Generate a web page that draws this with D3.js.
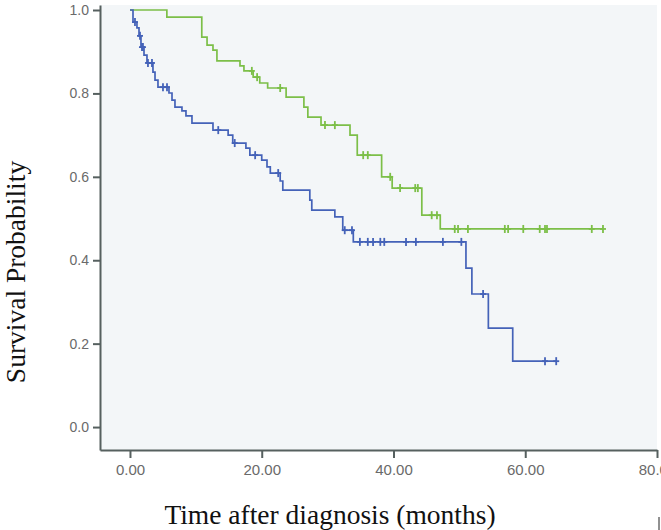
<!DOCTYPE html>
<html>
<head>
<meta charset="utf-8">
<script src="https://cdn.jsdelivr.net/npm/d3@7"></script>
<style>
  body { margin: 0; background: #fff; }
  svg { display: block; }
</style>
</head>
<body>
<div id="chart"></div>
<script>
// tick values
const xTicks = [0, 20, 40, 60, 80];
const yTicks = [0, 0.2, 0.4, 0.6, 0.8, 1.0];

// group 1 (green) - KM steps
const greenTimes = [5.6, 10.9, 11.7, 12.6, 13.2, 16.7, 17.3, 18.7, 19.7, 20.9, 23.7, 26.4, 27.0, 29.0, 33.4, 34.5, 38.2, 39.8, 44.3, 47.1];
const greenSurv  = [0.983, 0.935, 0.916, 0.904, 0.878, 0.866, 0.854, 0.839, 0.825, 0.813, 0.791, 0.767, 0.743, 0.724, 0.700, 0.652, 0.600, 0.573, 0.508, 0.475];
const greenCensored = [18.5, 19.3, 22.8, 29.6, 31.1, 35.4, 36.1, 39.5, 41.0, 43.3, 43.7, 45.8, 46.6, 49.3, 49.8, 51.3, 56.9, 57.4, 59.7, 62.2, 63.0, 63.3, 70.1, 71.8];

// group 2 (blue)
const blueTimes = [0.46, 1.06, 1.37, 1.67, 2.13, 2.58, 3.49, 3.80, 4.25, 5.92, 6.38, 6.83, 7.89, 8.50, 9.41, 12.6, 14.9, 15.6, 17.6, 18.2, 20.0, 20.8, 21.3, 22.8, 23.2, 27.3, 27.6, 31.1, 32.3, 33.9, 51.0, 51.9, 54.4, 58.1];
const blueSurv  = [0.971, 0.957, 0.938, 0.911, 0.892, 0.873, 0.851, 0.832, 0.815, 0.801, 0.784, 0.767, 0.758, 0.746, 0.729, 0.712, 0.700, 0.681, 0.669, 0.652, 0.640, 0.624, 0.609, 0.590, 0.568, 0.544, 0.520, 0.504, 0.472, 0.444, 0.381, 0.319, 0.237, 0.158];
const blueCensored = [0.76, 1.52, 1.82, 1.97, 2.73, 3.34, 5.01, 5.62, 13.4, 15.9, 19.0, 22.5, 32.6, 33.7, 34.9, 36.1, 36.9, 38.0, 38.6, 41.9, 43.4, 47.5, 50.3, 53.6, 63.0, 64.7];

const width = 661, height = 530;

const svg = d3.select("#chart")
    .append("svg")
    .attr("width", width)
    .attr("height", height);

var x = d3.scaleLinear()
    .domain([-4.55, 80])
    .range([100, 657]);

var y = d3.scaleLinear()
    .domain([-0.055, 1.012])
    .range([450, 5]);

// plot background
svg.append("rect")
    .attr("x", x.range()[0])
    .attr("y", y.range()[1])
    .attr("width", x.range()[1] - x.range()[0])
    .attr("height", y.range()[0] - y.range()[1])
    .attr("fill", "#f3f6f8");

function level(times, surv, t) {
    let p = 1;
    for (let i = 0; i < times.length; i++) {
        if (times[i] <= t) p = surv[i];
    }
    return p;
}

function drawCurve(times, surv, censored, color) {
    let pts = [[0, 1]];
    for (let i = 0; i < times.length; i++) pts.push([times[i], surv[i]]);
    let tEnd = d3.max(censored.concat(times));
    pts.push([tEnd, level(times, surv, tEnd)]);

    var line = d3.line()
        .x(function(d) { return x(d[0]) })
        .y(function(d) { return y(d[1]) })
        .curve(d3.curveStepAfter);

    svg.append("path")
        .datum(pts)
        .attr("d", line)
        .attr("fill", "none")
        .attr("stroke", color)
        .attr("stroke-width", 1.7);

    // censor marks (+)
    var marks = svg.append("g")
        .selectAll("g")
        .data(censored)
        .enter()
        .append("g")
        .attr("transform", function(d) { return `translate(${x(d)}, ${y(level(times, surv, d))})` });

    marks.append("line")
        .attr("x1", 0).attr("x2", 0)
        .attr("y1", -4).attr("y2", 4)
        .attr("stroke", color)
        .attr("stroke-width", 1.8);

    marks.append("line")
        .attr("x1", -3).attr("x2", 3)
        .attr("y1", 0).attr("y2", 0)
        .attr("stroke", color)
        .attr("stroke-width", 1.8);
}

drawCurve(greenTimes, greenSurv, greenCensored, "#7cbf48");
drawCurve(blueTimes, blueSurv, blueCensored, "#4462b8");

// axes
var xAxis = svg.append("g")
    .attr("transform", `translate(0, 450)`)
    .call(d3.axisBottom(x).tickValues(xTicks).tickFormat(d3.format(".2f")).tickSize(8).tickSizeOuter(0).tickPadding(6));

xAxis.selectAll("text")
    .style("font-family", "Liberation Sans, Arial, sans-serif")
    .style("font-size", "15px")
    .attr("fill", "#6a6a6a");

var yAxis = svg.append("g")
    .attr("transform", `translate(100, 0)`)
    .call(d3.axisLeft(y).tickValues(yTicks).tickFormat(d3.format(".1f")).tickSize(7).tickSizeOuter(0).tickPadding(4));

yAxis.selectAll("text")
    .style("font-family", "Liberation Sans, Arial, sans-serif")
    .style("font-size", "14px")
    .attr("fill", "#6a6a6a");

svg.selectAll(".domain, .tick line")
    .attr("stroke", "#56605f")
    .attr("stroke-width", 2);

// axis titles
svg.append("text")
    .attr("x", 330)
    .attr("y", 524)
    .style("text-anchor", "middle")
    .style("font-family", "Liberation Serif, Times New Roman, serif")
    .style("font-size", "27.5px")
    .attr("fill", "#111")
    .text("Time after diagnosis (months)");

svg.append("text")
    .attr("transform", `translate(25, 272)rotate(-90)`)
    .style("text-anchor", "middle")
    .style("font-family", "Liberation Serif, Times New Roman, serif")
    .style("font-size", "27.5px")
    .attr("fill", "#111")
    .text("Survival Probability");

// small edge mark at bottom right of the original crop
svg.append("line")
    .attr("x1", 659).attr("x2", 659)
    .attr("y1", 517).attr("y2", 530)
    .attr("stroke", "#222")
    .attr("stroke-width", 1);
</script>
</body>
</html>
